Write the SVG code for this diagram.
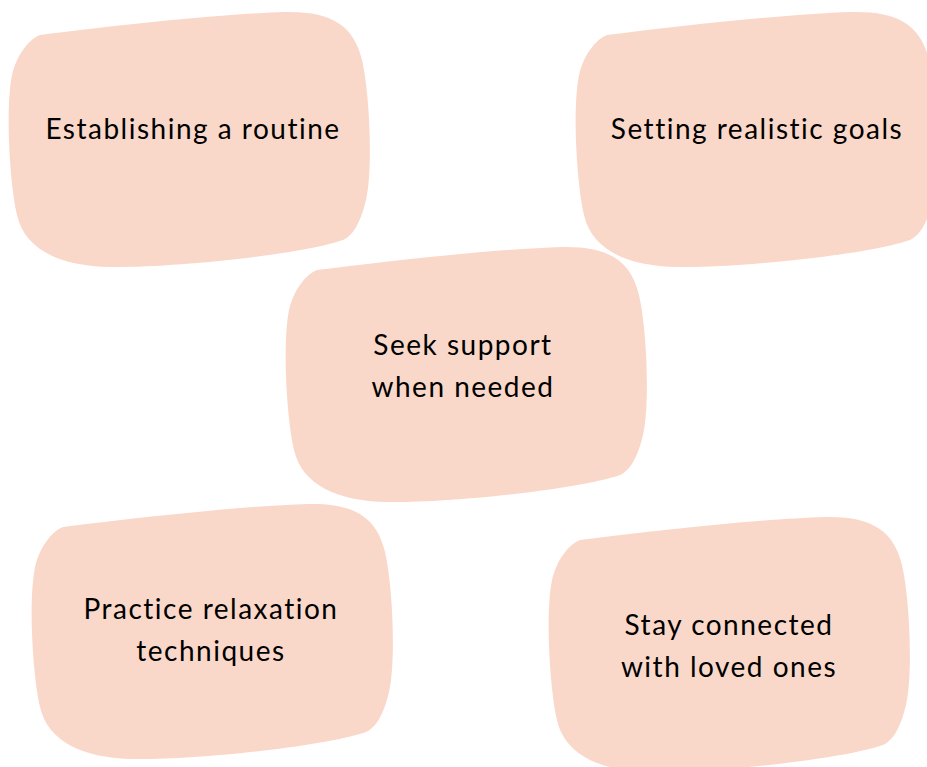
<svg xmlns="http://www.w3.org/2000/svg" xmlns:xlink="http://www.w3.org/1999/xlink" width="927" height="767" viewBox="0 0 927 767">
<style>
.blob{fill:#FAD8C9;}
.lbl{font-family:"Lato","Open Sans","Liberation Sans",sans-serif;font-size:28px;font-weight:400;letter-spacing:1.5px;fill:#000;text-anchor:middle;}
</style>
<defs>
<path id="shape" d="M 40,35 C 120,25 220,14 285,12 C 332,11 354,26 362,60 C 370,95 373,170 366,200 C 360,225 352,236 343,240 C 300,255 170,268 110,267 C 60,266 25,250 17,215 C 10,185 5,110 12,75 C 17,55 28,40 40,35 Z"/>
</defs>
<rect width="927" height="767" fill="#FFFFFF"/>
<g id="connectors"/>
<g id="node-routine">
<use xlink:href="#shape" href="#shape" class="blob"/>
<text class="lbl" x="193" y="139">Establishing a routine</text>
</g>
<g id="node-goals">
<use xlink:href="#shape" href="#shape" class="blob" transform="translate(567,0)"/>
<text class="lbl" x="757" y="139">Setting realistic goals</text>
</g>
<g id="node-support">
<use xlink:href="#shape" href="#shape" class="blob" transform="translate(277,235)"/>
<text class="lbl" x="463" y="355">Seek support</text>
<text class="lbl" x="463" y="397">when needed</text>
</g>
<g id="node-relax">
<use xlink:href="#shape" href="#shape" class="blob" transform="translate(23,492)"/>
<text class="lbl" x="211" y="619">Practice relaxation</text>
<text class="lbl" x="211" y="661">techniques</text>
</g>
<g id="node-connected">
<use xlink:href="#shape" href="#shape" class="blob" transform="translate(540,505)"/>
<text class="lbl" x="729" y="635">Stay connected</text>
<text class="lbl" x="729" y="677">with loved ones</text>
</g>
</svg>
